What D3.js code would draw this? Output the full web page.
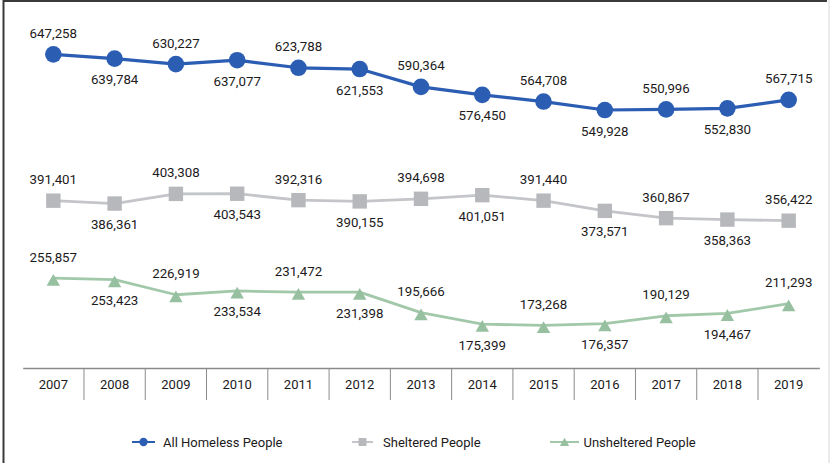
<!DOCTYPE html>
<html>
<head>
<meta charset="utf-8">
<script src="https://cdn.jsdelivr.net/npm/d3@7"></script>
<style>
  body { margin: 0; background: #fff; }
  svg { display: block; font-family: Roboto, "Open Sans", sans-serif; }
</style>
</head>
<body>
<svg id="chart" width="831" height="463"></svg>
<script>
// Point-in-time counts of people experiencing homelessness, 2007–2019
const years = ["2007", "2008", "2009", "2010", "2011", "2012", "2013",
               "2014", "2015", "2016", "2017", "2018", "2019"];
const allHomeless = [647258, 639784, 630227, 637077, 623788, 621553, 590364,
                     576450, 564708, 549928, 550996, 552830, 567715];
const sheltered   = [391401, 386361, 403308, 403543, 392316, 390155, 394698,
                     401051, 391440, 373571, 360867, 358363, 356422];
const unsheltered = [255857, 253423, 226919, 233534, 231472, 231398, 195666,
                     175399, 173268, 176357, 190129, 194467, 211293];
const seriesNames = ["All Homeless People", "Sheltered People", "Unsheltered People"];

const W = 831, H = 463;
const svg = d3.select("#chart");
const fmt = d3.format(",");
const textColor = "#1c1a1b";

const x = d3.scaleBand().domain(years).range([22.7, 819.3]);
const y = d3.scaleLinear().domain([0, 700000]).range([424.5, 24.2]);
const cx = d => x(d) + x.bandwidth() / 2;

// frame
svg.append("line").attr("x1", 3.5).attr("x2", 3.5).attr("y1", 0).attr("y2", H)
  .attr("stroke", "#3a3a3a").attr("stroke-width", 2);
svg.append("line").attr("x1", 3).attr("x2", 827).attr("y1", 1).attr("y2", 1)
  .attr("stroke", "#3a3a3a").attr("stroke-width", 2);
svg.append("line").attr("x1", 829).attr("x2", 829).attr("y1", 0).attr("y2", H)
  .attr("stroke", "#d6d6d6").attr("stroke-width", 1);

// category axis with separators between years
const axisY = 368;
const axisG = svg.append("g").attr("transform", `translate(0,${axisY})`)
  .call(d3.axisBottom(x).tickSizeInner(0).tickSizeOuter(0).tickPadding(11.4));
axisG.select(".domain").attr("stroke", "#8a8a8a").attr("stroke-width", 1.5);
axisG.selectAll(".tick text").attr("font-size", 13).attr("fill", textColor)
  .attr("font-family", "Roboto, sans-serif");
axisG.selectAll(".sep").data(years.slice(1)).join("line")
  .attr("class", "sep")
  .attr("x1", d => x(d)).attr("x2", d => x(d))
  .attr("y1", 0).attr("y2", 32)
  .attr("stroke", "#8a8a8a").attr("stroke-width", 1);

const series = [
  { name: seriesNames[0], values: allHomeless, line: "#2b5db3", fill: "#2b5db3", width: 3.2, shape: "circle", legendScale: 0.5 },
  { name: seriesNames[1], values: sheltered,   line: "#c3c5c8", fill: "#b6b8bb", width: 2.8, shape: "square", legendScale: 0.55 },
  { name: seriesNames[2], values: unsheltered, line: "#a2c8aa", fill: "#97c0a0", width: 2.8, shape: "triangle", legendScale: 0.7 }
];

function drawMarker(g, shape, color, s) {
  if (shape === "circle") {
    g.append("circle").attr("r", 8.3 * s).attr("fill", color);
  } else if (shape === "square") {
    const h = 7.2 * s;
    g.append("rect").attr("x", -h).attr("y", -h).attr("width", 2 * h).attr("height", 2 * h)
      .attr("fill", color);
  } else {
    const hw = 6.7 * s;
    g.append("path")
      .attr("d", `M0,${-4.2 * s}L${hw},${7.6 * s}L${-hw},${7.6 * s}Z`)
      .attr("fill", color);
  }
}

const lineGen = d3.line().x((v, i) => cx(years[i])).y(v => y(v));

series.forEach(s => {
  const g = svg.append("g");
  g.append("path").datum(s.values)
    .attr("d", lineGen)
    .attr("fill", "none").attr("stroke", s.line).attr("stroke-width", s.width)
    .attr("stroke-linejoin", "round");
  s.values.forEach((v, i) => {
    const m = g.append("g").attr("transform", `translate(${cx(years[i])},${y(v)})`);
    drawMarker(m, s.shape, s.fill, 1);
  });
  g.selectAll("text.val").data(s.values).join("text")
    .attr("class", "val")
    .attr("x", (v, i) => cx(years[i]))
    .attr("y", (v, i) => y(v) + (i % 2 === 0 ? -21 : 21))
    .attr("dominant-baseline", "central")
    .attr("text-anchor", "middle")
    .attr("font-size", 13.3)
    .attr("fill", textColor)
    .text(v => fmt(v));
});

// legend
const legendY = 442;
const legendPos = [
  { x0: 132, x1: 155, m: 143.5, t: 163 },
  { x0: 352, x1: 373, m: 362.5, t: 383 },
  { x0: 550, x1: 579, m: 564.5, t: 583.5 }
];
series.forEach((s, i) => {
  const p = legendPos[i];
  const g = svg.append("g");
  g.append("line").attr("x1", p.x0).attr("x2", p.x1).attr("y1", legendY).attr("y2", legendY)
    .attr("stroke", s.line).attr("stroke-width", 2);
  const m = g.append("g").attr("transform", `translate(${p.m},${legendY - (s.shape === "triangle" ? 1.2 : 0)})`);
  drawMarker(m, s.shape, s.fill, s.legendScale);
  g.append("text").attr("x", p.t).attr("y", legendY)
    .attr("dominant-baseline", "central")
    .attr("font-size", 13).attr("fill", textColor)
    .text(s.name);
});
</script>
</body>
</html>
